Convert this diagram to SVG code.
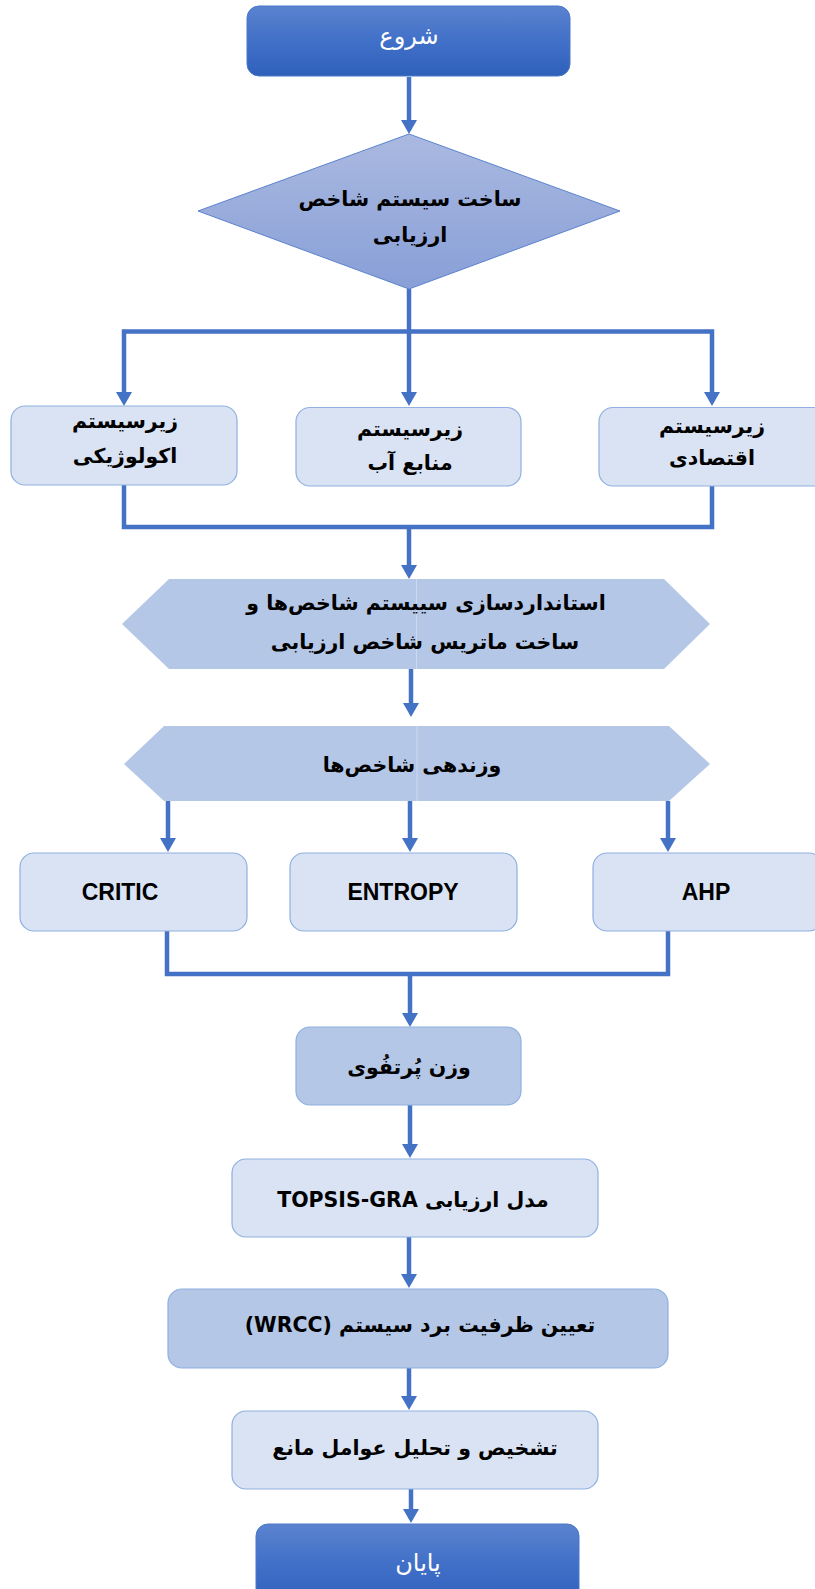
<svg xmlns="http://www.w3.org/2000/svg" width="815" height="1589" viewBox="0 0 815 1589">
<defs>
<linearGradient id="gTerm" x1="0" y1="0" x2="0" y2="1">
<stop offset="0" stop-color="#5b83cf"/>
<stop offset="0.5" stop-color="#4170c8"/>
<stop offset="1" stop-color="#2f61bb"/>
</linearGradient>
<linearGradient id="gDia" x1="0" y1="0" x2="0" y2="1">
<stop offset="0" stop-color="#aab9e0"/>
<stop offset="1" stop-color="#889fd7"/>
</linearGradient>
<marker id="arr" viewBox="0 0 14 16" refX="6" refY="8" markerWidth="14" markerHeight="16" markerUnits="userSpaceOnUse" orient="auto-start-reverse">
<path d="M0,0 L14,8 L0,16 z" fill="#4472c4"/>
</marker>
<style>
.term{fill:url(#gTerm);stroke:#4a78c9;stroke-width:1}
.box{fill:#dae3f3;stroke:#8fb0e0;stroke-width:1.2}
.dbox{fill:#b4c7e7;stroke:#8fb0e0;stroke-width:1.2}
.hex{fill:#b4c7e7;stroke:none}
.seam{stroke:#cdd9ef;stroke-width:1}
.fa{font-family:"DejaVu Sans","Noto Sans",sans-serif;font-weight:bold;font-size:20.5px;fill:#000;text-anchor:middle;direction:rtl}
.wt{fill:#fff;font-weight:normal;font-size:24px}
.en{font-family:"Liberation Sans",Arial,sans-serif;font-weight:bold;font-size:23px;fill:#000;text-anchor:middle}
.ln{fill:none;stroke:#4472c4;stroke-width:4.5}
</style>
</defs>

<g id="connectors">
<path class="ln" d="M409,77 V126" marker-end="url(#arr)"/>
<path class="ln" d="M409,289 V398" marker-end="url(#arr)"/>
<path class="ln" d="M124,398 V331.5 H712 V398" marker-start="url(#arr)" marker-end="url(#arr)"/>
<path class="ln" d="M124,485 V527 H712 V486"/>
<path class="ln" d="M409,527 V571" marker-end="url(#arr)"/>
<path class="ln" d="M411,669 V709" marker-end="url(#arr)"/>
<path class="ln" d="M168,801 V844" marker-end="url(#arr)"/>
<path class="ln" d="M410,801 V844" marker-end="url(#arr)"/>
<path class="ln" d="M668,801 V844" marker-end="url(#arr)"/>
<path class="ln" d="M167,931 V974 H668 V931"/>
<path class="ln" d="M410,974 V1019" marker-end="url(#arr)"/>
<path class="ln" d="M410,1105 V1150" marker-end="url(#arr)"/>
<path class="ln" d="M409,1237 V1280" marker-end="url(#arr)"/>
<path class="ln" d="M409,1368 V1402" marker-end="url(#arr)"/>
<path class="ln" d="M411,1489 V1515" marker-end="url(#arr)"/>
</g>

<g id="start">
<rect class="term" x="247" y="6" width="323" height="70" rx="12"/>
<text class="fa wt" x="409" y="44">شروع</text>
</g>

<g id="build">
<polygon points="409,134 620,211 409,289 198,211" fill="url(#gDia)" stroke="#5a83cf" stroke-width="1"/>
<text class="fa" x="410" y="206">ساخت سیستم شاخص</text>
<text class="fa" x="410" y="242">ارزیابی</text>
</g>

<g id="eco">
<rect class="box" x="11" y="406" width="226" height="79" rx="14"/>
<text class="fa" x="125" y="428">زیرسیستم</text>
<text class="fa" x="125" y="463">اکولوژیکی</text>
</g>

<g id="water">
<rect class="box" x="296" y="407.5" width="225" height="78.5" rx="14"/>
<text class="fa" x="410" y="436">زیرسیستم</text>
<text class="fa" x="410" y="470">منابع آب</text>
</g>

<g id="econ">
<rect class="box" x="599" y="407.5" width="230" height="78.5" rx="14"/>
<text class="fa" x="712" y="433">زیرسیستم</text>
<text class="fa" x="712" y="465">اقتصادی</text>
</g>

<g id="standard">
<polygon class="hex" points="122,624 169,579 664,579 710,624 664,669 169,669"/>
<line class="seam" x1="416.5" y1="579" x2="416.5" y2="669"/>
<text class="fa" x="426" y="610">استانداردسازی سییستم شاخص‌ها و</text>
<text class="fa" x="425" y="649">ساخت ماتریس شاخص ارزیابی</text>
</g>

<g id="weighting">
<polygon class="hex" points="124,764 164,726 669,726 710,764 669,801 164,801"/>
<line class="seam" x1="417" y1="726" x2="417" y2="801"/>
<text class="fa" x="412" y="772">وزندهی شاخص‌ها</text>
</g>

<g id="critic">
<rect class="box" x="20" y="853" width="227" height="78" rx="14"/>
<text class="en" x="120" y="900">CRITIC</text>
</g>

<g id="entropy">
<rect class="box" x="290" y="853" width="227" height="78" rx="14"/>
<text class="en" x="403" y="900">ENTROPY</text>
</g>

<g id="ahp">
<rect class="box" x="593" y="853" width="230" height="78" rx="14"/>
<text class="en" x="706" y="900">AHP</text>
</g>

<g id="portfolio">
<rect class="dbox" x="296" y="1027" width="225" height="78" rx="14"/>
<text class="fa" x="409" y="1074">وزن پُرتفُوی</text>
</g>

<g id="topsis">
<rect class="box" x="232" y="1159" width="366" height="78" rx="14"/>
<text class="fa" x="413" y="1207">مدل ارزیابی TOPSIS-GRA</text>
</g>

<g id="wrcc">
<rect class="dbox" x="168" y="1289" width="500" height="79" rx="14"/>
<text class="fa" x="420" y="1332">تعیین ظرفیت برد سیستم (WRCC)</text>
</g>

<g id="barriers">
<rect class="box" x="232" y="1411" width="366" height="78" rx="14"/>
<text class="fa" x="415" y="1455">تشخیص و تحلیل عوامل مانع</text>
</g>

<g id="end">
<rect class="term" x="256" y="1524" width="323" height="80" rx="12"/>
<text class="fa wt" x="418" y="1571">پایان</text>
</g>
</svg>
